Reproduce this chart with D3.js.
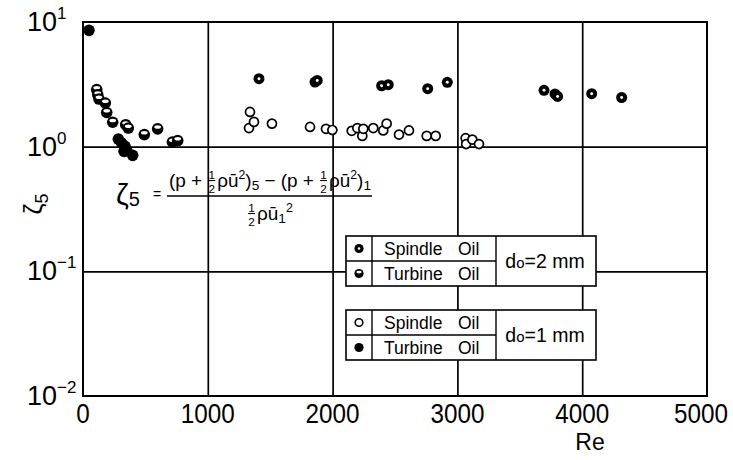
<!DOCTYPE html>
<html>
<head>
<meta charset="utf-8">
<script src="https://cdn.jsdelivr.net/npm/d3@7"></script>
<style>
  html, body { margin: 0; padding: 0; background: #fff; }
  svg { display: block; font-family: "Liberation Sans", sans-serif; }
</style>
</head>
<body>
<svg id="chart" width="733" height="460"></svg>
<script>
// Reynolds-number ticks and decade exponents of the loss coefficient
const reTicks = [0, 1000, 2000, 3000, 4000, 5000];
const zetaExponents = [-2, -1, 0, 1];

// d0 = 2 mm, spindle oil
const spindle2Re   = [1410, 1859, 1877, 2393, 2446, 2762, 2919, 3694, 3782, 3803, 4076, 4316];
const spindle2Zeta = [3.51, 3.30, 3.40, 3.08, 3.14, 2.92, 3.28, 2.83, 2.65, 2.53, 2.66, 2.48];

// d0 = 2 mm, turbine oil
const turbine2Re   = [110, 118, 128, 179, 190, 238, 342, 363, 491, 598, 716, 759];
const turbine2Zeta = [2.87, 2.61, 2.41, 2.24, 1.88, 1.57, 1.50, 1.41, 1.25, 1.39, 1.09, 1.12];

// d0 = 1 mm, spindle oil
const spindle1Re   = [1330, 1338, 1370, 1514, 1819, 1947, 1998, 2153, 2198, 2238, 2246, 2326,
                      2406, 2433, 2532, 2612, 2754, 2826, 3066, 3070, 3120, 3173];
const spindle1Zeta = [1.41, 1.90, 1.58, 1.53, 1.44, 1.39, 1.36, 1.34, 1.41, 1.22, 1.39, 1.41,
                      1.35, 1.53, 1.25, 1.35, 1.22, 1.22, 1.17, 1.05, 1.14, 1.05];

// d0 = 1 mm, turbine oil
const turbine1Re   = [48, 283, 310, 329, 337, 350, 398];
const turbine1Zeta = [8.57, 1.15, 1.07, 0.917, 1.005, 0.934, 0.852];

const svg = d3.select("#chart");
const plotLeft = 83, plotRight = 707, plotTop = 22, plotBottom = 396;
const W = plotRight - plotLeft, H = plotBottom - plotTop;

const x = d3.scaleLinear().domain([0, 5000]).range([plotLeft, plotRight]);
const y = d3.scaleLog().domain([0.01, 10]).range([plotBottom, plotTop]);

const font = "Liberation Sans";

// grid lines through the axes generators
const gx = svg.append("g")
  .attr("transform", `translate(0,${plotBottom})`)
  .call(d3.axisBottom(x).tickValues(reTicks.slice(1, -1)).tickSizeInner(-H).tickSizeOuter(0).tickFormat(""));
gx.select(".domain").remove();
gx.selectAll(".tick line").attr("stroke", "#000").attr("stroke-width", 1.7);

const gy = svg.append("g")
  .attr("transform", `translate(${plotLeft},0)`)
  .call(d3.axisLeft(y).tickValues([0.1, 1]).tickSizeInner(-W).tickSizeOuter(0).tickFormat(""));
gy.select(".domain").remove();
gy.selectAll(".tick line").attr("stroke", "#000").attr("stroke-width", 1.7);

// frame
svg.append("rect")
  .attr("x", plotLeft).attr("y", plotTop).attr("width", W).attr("height", H)
  .attr("fill", "none").attr("stroke", "#000").attr("stroke-width", 2);

// x tick labels: tall, narrow lettering, kept inside the page edge
svg.append("g").selectAll("text").data(reTicks).join("text")
  .attr("y", plotBottom + 27)
  .attr("text-anchor", "middle")
  .attr("font-size", 27).attr("font-family", font)
  .text(d => d)
  .each(function (d) {
    const s = d3.select(this);
    const natural = this.getComputedTextLength();
    const w = Math.min(natural, String(d).length * 13.5);
    if (w < natural) s.attr("textLength", w).attr("lengthAdjust", "spacingAndGlyphs");
    s.attr("x", Math.min(x(d), 728 - w / 2));
  });

// y tick labels: 10 with exponent
const yl = svg.append("g").selectAll("text").data(zetaExponents).join("text")
  .attr("x", 27).attr("y", d => y(Math.pow(10, d)) + 9)
  .attr("font-size", 27).attr("font-family", font);
yl.append("tspan").text("10");
yl.append("tspan").attr("dy", -12).attr("font-size", 17).text(d => d < 0 ? "\u2212" + (-d) : d);

// axis titles
svg.append("text").attr("x", 590).attr("y", 450).attr("text-anchor", "middle")
  .attr("font-size", 23).attr("font-family", font).text("Re");
const yt = svg.append("text").attr("transform", "translate(42,204) rotate(-90)")
  .attr("text-anchor", "middle").attr("font-size", 25).attr("font-family", font);
yt.append("tspan").text("\u03B6");
yt.append("tspan").attr("dy", 6).attr("font-size", 18).text("5");

// marker shapes
function openCircle(g) {
  g.append("circle").attr("r", 4.5).attr("fill", "#fff").attr("stroke", "#000").attr("stroke-width", 1.7);
}
function ringDot(g, r) {
  g.append("circle").attr("r", r).attr("fill", "#000");
  g.append("circle").attr("r", r * 0.27).attr("fill", "#fff");
}
function halfFilled(g, r) {
  g.append("circle").attr("r", r).attr("fill", "#000");
  g.append("ellipse").attr("cx", 0).attr("cy", -r * 0.3).attr("rx", r * 0.58).attr("ry", r * 0.3).attr("fill", "#fff");
}
function solid(g, r) {
  g.append("circle").attr("r", r).attr("fill", "#000");
}

function plotSeries(res, zetas, draw) {
  const pts = res.map((r, i) => [r, zetas[i]]);
  svg.append("g").selectAll("g").data(pts).join("g")
    .attr("transform", d => `translate(${x(d[0])},${y(d[1])})`)
    .each(function () { draw(d3.select(this)); });
}
plotSeries(spindle1Re, spindle1Zeta, openCircle);
plotSeries(turbine2Re, turbine2Zeta, g => halfFilled(g, 5.8));
plotSeries(spindle2Re, spindle2Zeta, g => ringDot(g, 5.5));
plotSeries(turbine1Re, turbine1Zeta, g => solid(g, 5.8));

// definition of the loss coefficient
function layout(g, pieces, fs) {
  let cx = 0;
  for (const p of pieces) {
    if (p.frac) {
      const s = fs * 0.62;
      const w = s * 0.75;
      g.append("text").attr("x", cx + w / 2).attr("y", -fs * 0.42).attr("text-anchor", "middle")
        .attr("font-size", s).attr("font-family", font).text("1");
      g.append("line").attr("x1", cx + 1).attr("x2", cx + w - 1).attr("y1", -fs * 0.34).attr("y2", -fs * 0.34)
        .attr("stroke", "#000").attr("stroke-width", 1.1);
      g.append("text").attr("x", cx + w / 2).attr("y", fs * 0.32).attr("text-anchor", "middle")
        .attr("font-size", s).attr("font-family", font).text("2");
      cx += w + 1;
    } else {
      const size = p.size ? fs * p.size : fs;
      const t = g.append("text").attr("x", cx).attr("y", p.dy ? fs * p.dy : 0)
        .attr("font-size", size).attr("font-family", font)
        .attr("xml:space", "preserve").style("white-space", "pre").text(p.t);
      cx += t.node().getComputedTextLength();
    }
  }
  return cx;
}

const fs = 19;
const num = svg.append("g");
const numW = layout(num, [
  { t: "(p + " }, { frac: true }, { t: "\u03C1\u016B" }, { t: "2", size: 0.65, dy: -0.4 },
  { t: ")" }, { t: "5", size: 0.72, dy: 0.15 },
  { t: " \u2212 (p + " }, { frac: true }, { t: "\u03C1\u016B" }, { t: "2", size: 0.65, dy: -0.4 },
  { t: ")" }, { t: "1", size: 0.72, dy: 0.15 }
], fs);
const numTarget = 202;
num.attr("transform", `translate(169,187) scale(${numTarget / numW},1)`);

svg.append("line").attr("x1", 167).attr("x2", 372).attr("y1", 196).attr("y2", 196)
  .attr("stroke", "#000").attr("stroke-width", 1.5);

const den = svg.append("g");
const denW = layout(den, [
  { frac: true }, { t: "\u03C1\u016B" }, { t: "1", size: 0.72, dy: 0.15 }, { t: "2", size: 0.65, dy: -0.4 }
], fs);
den.attr("transform", `translate(${270 - denW / 2},220)`);

const zl = svg.append("text").attr("x", 116).attr("y", 205).attr("font-size", 29).attr("font-family", font);
zl.append("tspan").text("\u03B6");
zl.append("tspan").attr("font-size", 20).attr("dy", 1).text("5");
svg.append("text").attr("x", 153).attr("y", 199).attr("font-size", 14).attr("font-family", font).text("=");

// legend blocks
const legendBlocks = [
  { top: 236, label: "2", rows: [["Spindle", ringDot], ["Turbine", halfFilled]] },
  { top: 310, label: "1", rows: [["Spindle", openCircle], ["Turbine", solid]] }
];
const lx0 = 346, lx1 = 372, lx2 = 496, lx3 = 596, rowH = 25;
legendBlocks.forEach(b => {
  const lg = svg.append("g");
  lg.append("rect").attr("x", lx0).attr("y", b.top).attr("width", lx3 - lx0).attr("height", rowH * 2)
    .attr("fill", "#fff").attr("stroke", "#000").attr("stroke-width", 1.6);
  lg.append("line").attr("x1", lx1).attr("x2", lx1).attr("y1", b.top).attr("y2", b.top + 2 * rowH)
    .attr("stroke", "#000").attr("stroke-width", 1.4);
  lg.append("line").attr("x1", lx2).attr("x2", lx2).attr("y1", b.top).attr("y2", b.top + 2 * rowH)
    .attr("stroke", "#000").attr("stroke-width", 1.4);
  lg.append("line").attr("x1", lx0).attr("x2", lx2).attr("y1", b.top + rowH).attr("y2", b.top + rowH)
    .attr("stroke", "#000").attr("stroke-width", 1.4);
  b.rows.forEach((r, i) => {
    const cy = b.top + rowH * i + rowH / 2;
    const m = lg.append("g").attr("transform", `translate(${(lx0 + lx1) / 2},${cy})`);
    if (r[1] === openCircle) {
      m.append("circle").attr("r", 3.8).attr("fill", "#fff").attr("stroke", "#000").attr("stroke-width", 1.6);
    } else {
      r[1](m, 4.6);
    }
    lg.append("text").attr("x", 384).attr("y", cy + 6).attr("font-size", 17.5).attr("font-family", font).text(r[0]);
    lg.append("text").attr("x", 458).attr("y", cy + 6).attr("font-size", 17.5).attr("font-family", font).text("Oil");
  });
  const dt = lg.append("text").attr("x", 545).attr("y", b.top + rowH + 7).attr("text-anchor", "middle")
    .attr("font-size", 19.5).attr("font-family", font);
  dt.append("tspan").text("d");
  dt.append("tspan").attr("font-size", 15).text("o");
  dt.append("tspan").text("=" + b.label + " mm");
});
</script>
</body>
</html>
